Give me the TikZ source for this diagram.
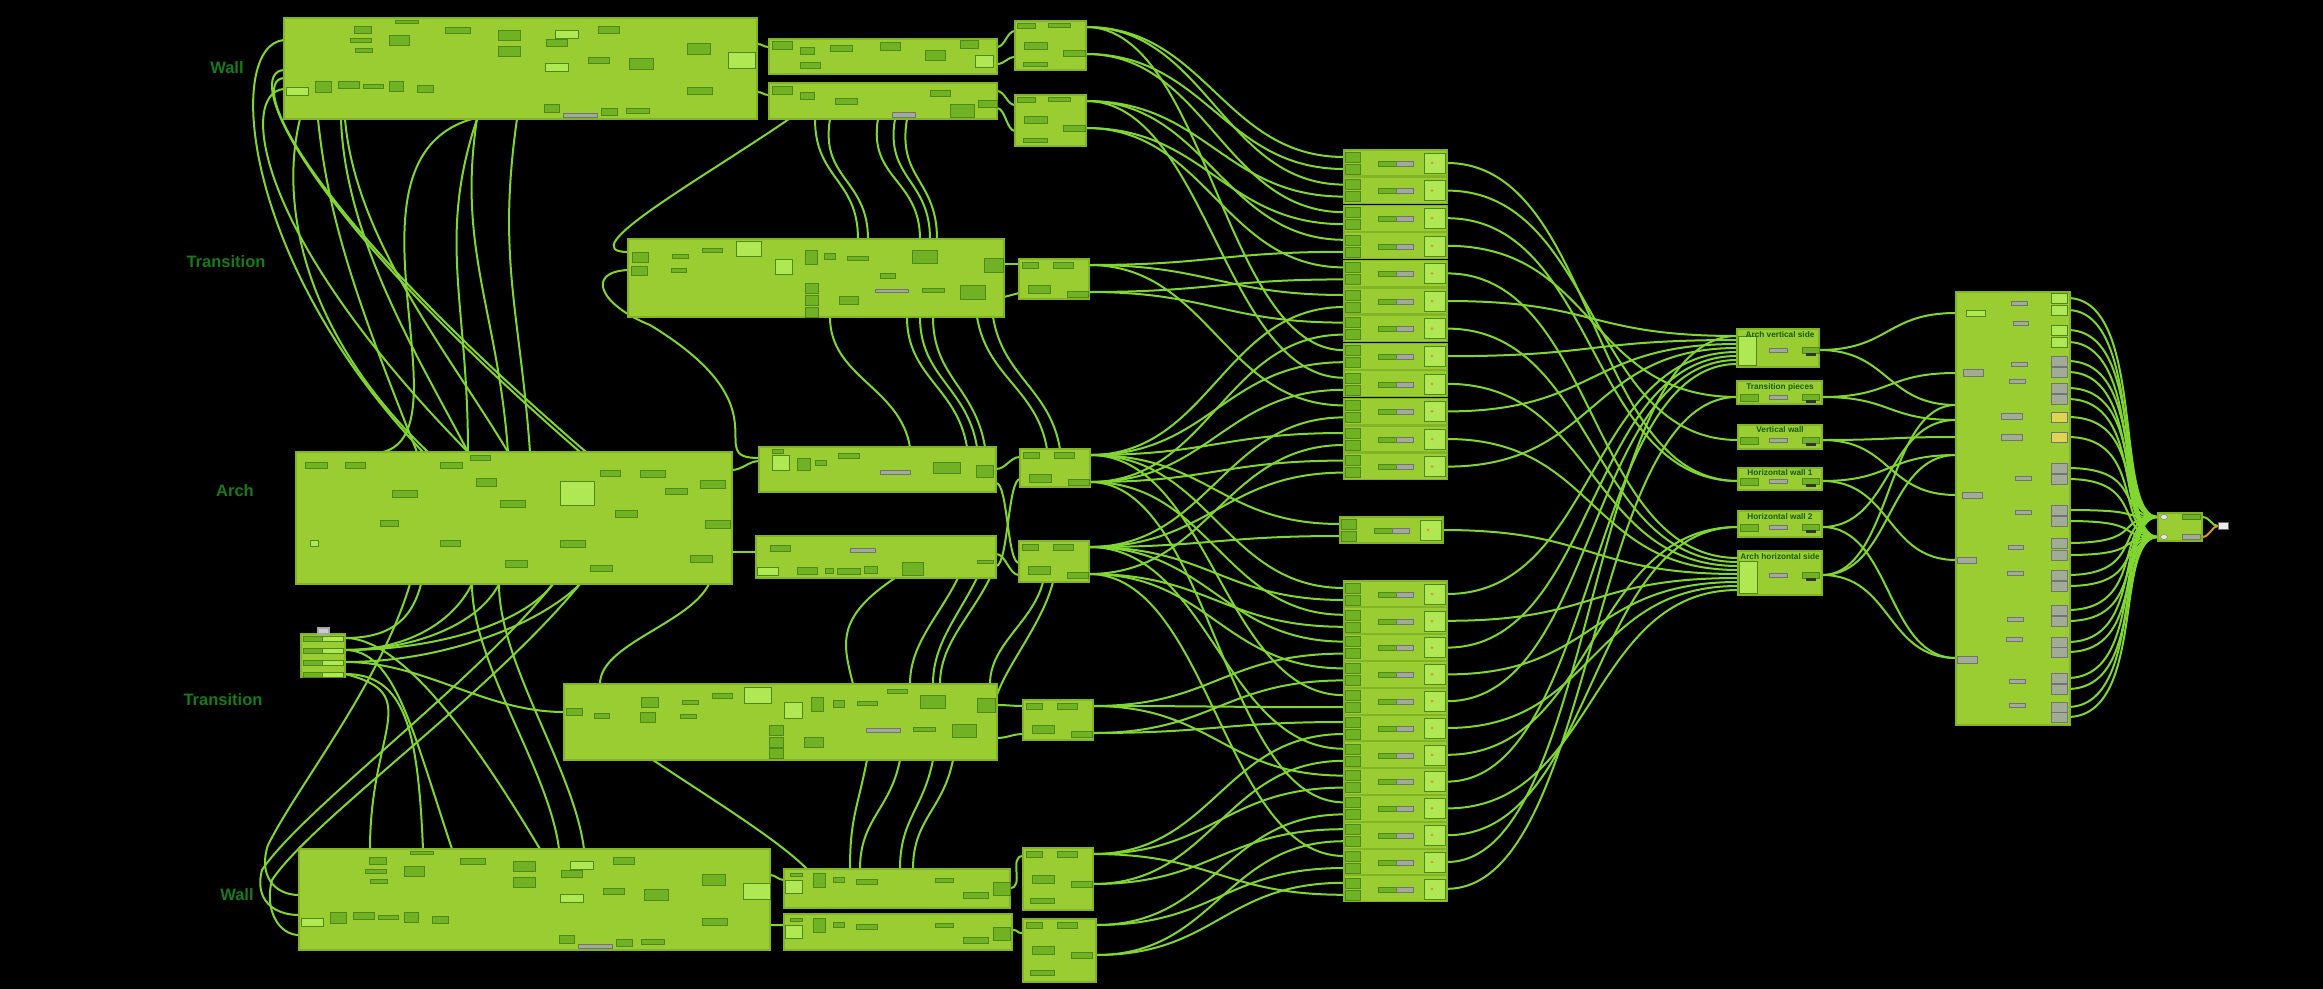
\documentclass[tikz,border=0pt]{standalone}
\usepackage{fontspec}
\setmainfont{Liberation Sans}
\usetikzlibrary{calc,fit}
\pgfdeclarelayer{back}
\pgfdeclarelayer{wires}
\pgfsetlayers{back,wires,main}
\definecolor{grp}{RGB}{154,205,50}
\definecolor{grpedge}{RGB}{130,180,40}
\definecolor{wirec}{RGB}{130,214,50}
\definecolor{compd}{RGB}{112,178,36}
\definecolor{compe}{RGB}{78,136,24}
\definecolor{compl}{RGB}{176,232,84}
\definecolor{compg}{RGB}{160,172,150}
\definecolor{compy}{RGB}{222,214,80}
\definecolor{labc}{RGB}{24,122,24}
\definecolor{titc}{RGB}{22,92,18}
\definecolor{orng}{RGB}{214,150,50}
\tikzset{
  grpbox/.style={fill=grp, draw=grpedge, line width=0.12mm, inner sep=0pt, outer sep=0pt},
  wire/.style={draw=wirec, line width=0.2mm},
  cd/.style={fill=compd, draw=compe, line width=0.05mm},
  cl/.style={fill=compl, draw=compe, line width=0.05mm},
  cg/.style={fill=compg, draw=black!55, line width=0.05mm},
  cy/.style={fill=compy, draw=black!55, line width=0.05mm},
  lab/.style={font=\fontsize{4.7}{5}\selectfont\bfseries, text=labc, inner sep=0pt},
  ttl/.style={font=\fontsize{2.35}{2.5}\selectfont\bfseries, text=titc, inner sep=0pt},
}
\newcommand{\rowbox}[3]{%
  \node[grpbox, fit={(#2,#3) (#2+103,#3+26)}] (#1) {};
  \path[cd] (#2+1,#3+2) rectangle ++(15,10);
  \path[cd] (#2+1,#3+14) rectangle ++(15,10);
  \path[cd] (#2+34,#3+11) rectangle ++(18,5);
  \path[cg] (#2+52,#3+11) rectangle ++(17,5);
  \path[cl] (#2+80,#3+3) rectangle ++(21,20);
  \fill[orng] (#2+88,#3+13) circle (0.15mm);
  \coordinate (#1a) at ($(#1.north west)+(0,7)$);
  \coordinate (#1b) at ($(#1.north west)+(0,19)$);
  \coordinate (#1o) at ($(#1.north east)+(0,13)$);
}
\begin{document}
\begin{tikzpicture}[x=0.1mm,y=-0.1mm]
\begin{pgfonlayer}{back}
\fill[black] (0,0) rectangle (2323,989);
\end{pgfonlayer}
\useasboundingbox (0,0) rectangle (2323,989);

% ---------- labels ----------
\node[lab] (lw1) at (227,68) {Wall};
\node[lab] (lt1) at (226,262) {Transition};
\node[lab] (la) at (235,491) {Arch};
\node[lab] (lt2) at (223,700) {Transition};
\node[lab] (lw2) at (237,895) {Wall};

% ---------- groups column 1 ----------
\node[grpbox, fit={(284,18) (757,119)}] (wallT) {};
\node[grpbox, fit={(628,239) (1004,317)}] (transU) {};
\node[grpbox, fit={(296,452) (732,584)}] (arch) {};
\node[grpbox, fit={(301,634) (345,677)}] (sbox) {};
\node[grpbox, fit={(564,684) (997,760)}] (transL) {};
\node[grpbox, fit={(299,849) (770,950)}] (wallB) {};
\path[fill=gray!40, draw=gray!70] (318,628) rectangle (329,634);
% column 2
\node[grpbox, fit={(769,39) (997,74)}] (a1) {};
\node[grpbox, fit={(769,83) (997,119)}] (a2) {};
\node[grpbox, fit={(759,447) (996,492)}] (a3) {};
\node[grpbox, fit={(756,536) (996,578)}] (a4) {};
\node[grpbox, fit={(784,869) (1010,908)}] (a5) {};
\node[grpbox, fit={(784,914) (1012,950)}] (a6) {};
% column 3
\node[grpbox, fit={(1015,21) (1086,70)}] (b1) {};
\node[grpbox, fit={(1015,95) (1086,146)}] (b2) {};
\node[grpbox, fit={(1019,259) (1089,299)}] (b3) {};
\node[grpbox, fit={(1020,449) (1090,487)}] (b4) {};
\node[grpbox, fit={(1019,541) (1089,582)}] (b5) {};
\node[grpbox, fit={(1023,700) (1093,740)}] (b6) {};
\node[grpbox, fit={(1023,848) (1093,910)}] (b7) {};
\node[grpbox, fit={(1023,919) (1096,982)}] (b8) {};
\foreach \n/\t/\d in {b1/6/33,b2/6/33,b3/6/33,b4/6/33,b5/6/33,b6/6/33,b7/6/36,b8/6/36}{
  \coordinate (\n o1) at ($(\n.north east)+(0,\t)$);
  \coordinate (\n o2) at ($(\n.north east)+(0,\d)$);
}

% ---------- components ----------
\foreach \dx/\dy in {0/0,15/831}{
 \foreach \s/\x/\y/\w/\h in {cd/354/26/17/7,cd/395/20/23/3,cd/350/38/21/4,cd/355/48/17/4,cd/389/35/20/10,cd/445/27/25/6,cd/498/30/22/10,cd/498/46/22/10,cl/555/30/23/8,cd/546/39/21/7,cd/598/26/21/7,cl/545/63/23/8,cd/588/57/21/6,cd/629/58/24/11,cd/687/43/23/11,cl/728/52/27/16,cd/687/87/25/7,cl/286/87/22/8,cd/315/81/16/11,cd/338/81/21/7,cd/363/84/20/4,cd/389/81/14/10,cd/417/85/16/7,cd/544/104/15/8,cg/563/113/34/4,cd/601/108/16/7,cd/626/108/23/5}
  {\path[\s] (\x+\dx,\y+\dy) rectangle ++(\w,\h);}
}
\foreach \s/\x/\y/\w/\h in {cd/305/462/22/6,cd/345/462/20/6,cd/392/490/25/7,cd/440/462/22/6,cd/476/478/20/8,cd/500/500/25/7,cd/505/560/22/7,cl/560/481/34/24,cd/600/470/20/6,cd/615/510/22/7,cd/640/470/25/7,cd/665/488/22/6,cd/700/480/25/8,cd/705/520/25/8,cd/690/555/22/7,cd/560/540/25/7,cd/590/565/22/6,cd/440/540/20/6,cd/380/520/18/6,cl/310/540/8/6,cd/470/455/20/5,
 cd/772/41/20/8,cd/800/47/14/7,cd/830/45/22/6,cd/880/42/20/8,cd/925/50/20/10,cd/960/40/18/8,cl/975/55/18/12,cd/800/62/20/6,
 cd/772/86/20/8,cd/800/92/14/7,cd/835/98/22/6,cg/892/112/23/5,cd/950/104/24/13,cd/978/100/19/7,cd/930/90/20/6,
 cd/772/449/11/4,cl/772/455/17/15,cd/797/458/13/12,cd/815/460/11/5,cd/838/453/21/5,cg/880/470/30/4,cd/933/462/27/11,cd/976/465/17/12,
 cl/757/567/21/8,cd/797/567/20/7,cd/825/568/8/5,cd/837/568/23/6,cd/864/566/13/7,cd/902/562/21/13,cd/977/560/16/3,cd/770/545/20/6,cg/850/548/25/4,
 cd/790/873/12/3,cl/785/880/17/13,cd/813/873/12/14,cd/833/877/11/5,cd/856/879/21/5,cd/935/878/18/4,cd/963/892/25/6,cd/993/882/17/13,
 cd/790/918/12/3,cl/785/925/17/13,cd/813/918/12/14,cd/833/922/11/5,cd/856/924/21/5,cd/935/923/18/4,cd/963/937/25/6,cd/993/927/17/13,
 cd/632/252/16/10,cd/631/266/16/9,cd/672/254/16/4,cd/671/268/15/4,cd/702/248/20/4,cl/736/241/25/15,cl/775/259/17/15,cd/805/250/12/14,cd/824/253/11/6,cd/847/256/21/4,cd/805/283/13/10,cd/805/295/13/10,cd/805/307/13/10,cd/839/296/19/8,cd/880/273/15/5,cg/875/289/33/3,cd/912/250/25/13,cd/922/288/22/4,cd/960/285/25/14,cd/984/258/19/14,
 cd/566/708/16/7,cd/594/713/15/5,cd/641/697/17/10,cd/640/712/15/10,cd/682/700/16/4,cd/680/714/16/4,cd/712/693/20/5,cl/744/687/27/16,cl/784/702/18/16,cd/811/697/12/14,cd/833/700/11/7,cd/857/701/20/4,cd/887/689/20/4,cd/920/695/25/13,cd/977/698/18/14,cd/769/725/14/10,cd/769/737/14/10,cd/769/748/14/10,cd/804/737/19/10,cg/866/728/34/4,cd/913/727/22/4,cd/952/724/24/13,
 cd/1017/23/18/5,cd/1048/23/22/4,cd/1024/42/23/7,cd/1063/50/22/6,cd/1023/62/24/4,
 cd/1017/97/18/5,cd/1048/97/22/4,cd/1024/116/23/7,cd/1063/125/22/6,cd/1023/138/24/4,
 cd/1022/262/16/6,cd/1053/262/20/6,cd/1028/285/22/8,cd/1067/291/21/6,
 cd/1023/452/16/6,cd/1054/452/20/6,cd/1029/474/22/8,cd/1068/479/21/6,
 cd/1022/544/16/6,cd/1053/544/20/6,cd/1028/566/22/8,cd/1067/572/21/6,
 cd/1026/703/16/6,cd/1057/703/20/6,cd/1032/725/22/8,cd/1071/731/21/6,
 cd/1026/851/16/6,cd/1057/851/20/6,cd/1032/875/22/8,cd/1071/881/21/6,cd/1030/898/24/5,
 cd/1026/922/16/6,cd/1057/922/20/6,cd/1032/946/22/8,cd/1071/952/21/6,cd/1030/970/24/5}
 {\path[\s] (\x,\y) rectangle ++(\w,\h);}
\foreach \yy in {636,648,660,672}{
 \path[cd] (303,\yy) rectangle ++(19,5);
 \path[cl] (322,\yy) rectangle ++(21,5);
}

% ---------- column 4 rows ----------
\foreach \i in {1,...,12}{
  \pgfmathsetmacro\yy{150+(\i-1)*27.6}
  \rowbox{t\i}{1344}{\yy}
}
\rowbox{mrow}{1340}{517}
\foreach \i in {1,...,12}{
  \pgfmathsetmacro\yy{581+(\i-1)*26.8}
  \rowbox{u\i}{1344}{\yy}
}

% ---------- column 5 ----------
\node[grpbox, fit={(1737,329) (1819,367)}] (avs) {};
\node[grpbox, fit={(1737,381) (1822,404)}] (tp) {};
\node[grpbox, fit={(1738,425) (1822,449)}] (vw) {};
\node[grpbox, fit={(1738,468) (1822,490)}] (hw1) {};
\node[grpbox, fit={(1738,511) (1822,537)}] (hw2) {};
\node[grpbox, fit={(1738,551) (1822,595)}] (ahs) {};
\path[cl] (1738,336) rectangle (1756,365);
\path[cl] (1739,561) rectangle (1757,593);
\foreach \n/\yc in {tp/397,vw/440,hw1/481,hw2/527}{
  \path[cd] (1740,\yc-3) rectangle ++(18,7);
}
\foreach \yc in {350,397,440,481,527,575}{
  \path[cg] (1769,\yc-2) rectangle ++(18,4);
  \path[cd] (1802,\yc-3) rectangle ++(17,6);
  \path[fill=black!80] (1806,\yc+3) rectangle ++(10,3);
}
\node[ttl] at (1780,335) {Arch vertical side};
\node[ttl] at (1780,387) {Transition pieces};
\node[ttl] at (1780,430) {Vertical wall};
\node[ttl] at (1780,473) {Horizontal wall 1};
\node[ttl] at (1780,517) {Horizontal wall 2};
\node[ttl] at (1780,557) {Arch horizontal side};
\foreach \n/\yc in {avs/350,tp/397,vw/440,hw1/481,hw2/527,ahs/575}{
  \coordinate (\n o) at (\n.east|-0,\yc);
}
\foreach \k/\yc in {1/336,2/340,3/344,4/348,5/352,6/356,7/360,8/364}{
  \coordinate (avs\k) at (avs.west|-0,\yc);
}
\foreach \k/\yc in {1/558,2/562,3/566,4/570,5/574,6/578,7/582,8/586,9/590}{
  \coordinate (ahs\k) at (ahs.west|-0,\yc);
}
\coordinate (tpi) at (tp.west|-0,397);
\coordinate (vwi) at (vw.west|-0,440);
\coordinate (hw1i) at (hw1.west|-0,481);
\coordinate (hw2i) at (hw2.west|-0,527);

% ---------- column 6 ----------
\node[grpbox, fit={(1956,292) (2070,725)}] (big) {};
\foreach \k/\d in {1/21,2/81,3/113,4/128,5/145,6/163,7/203,8/268,9/366}{
  \coordinate (ci\k) at ($(big.north west)+(0,\d)$);
}
\path[cl] (1966,310) rectangle ++(19,6);
\foreach \x/\y/\w/\h in {1963/369/20/7,2001/413/21/6,2001/434/21/6,1962/492/20/6,1957/557/19/6,1957/656/20/7,2011/301/16/4,2013/321/15/4,2011/362/16/4,2009/379/16/4,2015/476/16/4,2015/510/16/4,2008/545/15/4,2007/571/16/4,2007/617/16/4,2006/637/16/4,2009/679/16/4,2009/703/16/4}
  {\path[cg] (\x,\y) rectangle ++(\w,\h);}
\foreach \yy/\st [count=\k] in {298/cl,310/cl,330/cl,342/cl,361/cg,372/cg,388/cg,399/cg,417/cy,437/cy,468/cg,479/cg,510/cg,521/cg,543/cg,555/cg,575/cg,586/cg,610/cg,621/cg,642/cg,652/cg,678/cg,689/cg,707/cg,717/cg}{
  \node[\st, minimum width=1.6mm, minimum height=0.95mm, inner sep=0pt] (o\k) at (2059,\yy) {};
}

% ---------- final ----------
\node[grpbox, fit={(2158,513) (2202,541)}] (fin) {};
\coordinate (fi1) at ($(fin.north west)+(0,4)$);
\coordinate (fi2) at ($(fin.north west)+(0,24)$);
\path[fill=white!80!gray, draw=black!50, line width=0.05mm] (2164,517) ellipse (0.35mm and 0.25mm);
\path[fill=white!80!gray, draw=black!50, line width=0.05mm] (2164,537) ellipse (0.35mm and 0.25mm);
\path[cd] (2182,514) rectangle ++(18,5);
\path[cg] (2182,534) rectangle ++(18,5);
\node[fill=white!85!gray, draw=black!60, line width=0.05mm, minimum width=1mm, minimum height=0.7mm, inner sep=0pt] (outn) at (2223,526) {};

% ================= wires =================
\begin{pgfonlayer}{wires}
% left area
\draw[wire] ($(wallT.north west)+(0,22)$) .. controls +(-59,5) and +(-183,-192) .. ($(arch.north west)+(127,0)$);
\draw[wire] ($(wallT.north west)+(0,71)$) .. controls +(-44,3) and +(-218,-222) .. ($(arch.north west)+(172,0)$);
\draw[wire] ($(wallT.north west)+(0,52)$) .. controls +(-39,2) and +(-290,-252) .. ($(arch.north west)+(284,0)$);
\draw[wire] ($(wallT.north west)+(0,60)$) .. controls +(-36,3) and +(-286,-247) .. ($(arch.north west)+(290,0)$);
\draw[wire] ($(wallT.south west)+(16,0)$) .. controls +(-20,81) and +(-128,-122) .. ($(arch.north west)+(132,0)$);
\draw[wire] ($(wallT.south west)+(34,0)$) .. controls +(10,100) and +(-60,-150) .. ($(arch.north west)+(121,0)$);
\draw[wire] ($(wallT.south west)+(57,0)$) .. controls +(4,121) and +(-48,-92) .. ($(arch.north west)+(172,0)$);
\draw[wire] ($(wallT.south west)+(61,0)$) .. controls +(10,120) and +(-60,-100) .. ($(arch.north west)+(212,0)$);
\draw[wire] ($(wallT.south west)+(188,0)$) .. controls +(-142,41) and +(87,-22) .. ($(arch.north west)+(87,0)$);
\draw[wire] ($(wallT.south west)+(193,0)$) .. controls +(-40,120) and +(0,-150) .. ($(arch.north west)+(172,0)$);
\draw[wire] ($(wallT.south west)+(193,0)$) .. controls +(-20,130) and +(-10,-140) .. ($(arch.north west)+(212,0)$);
\draw[wire] ($(wallT.south west)+(233,0)$) .. controls +(-20,140) and +(-10,-140) .. ($(arch.north west)+(234,0)$);
\draw[wire] ($(a2.south west)+(20,0)$) .. controls +(-89,61) and +(-58,0) .. ($(transU.north west)+(0,13)$);
\draw[wire] ($(transU.north west)+(0,31)$) .. controls +(-43,2) and +(-50,-20) .. (650,325) .. controls +(140,85) and +(-59,0) .. ($(a3.north west)+(0,11)$);
\draw[wire] ($(sbox.north east)+(0,4)$) .. controls +(40,0) and +(-10,40) .. ($(arch.south west)+(125,0)$);
\draw[wire] ($(sbox.north east)+(0,16)$) .. controls +(60,0) and +(-20,40) .. ($(arch.south west)+(176,0)$);
\draw[wire] ($(sbox.north east)+(0,16)$) .. controls +(70,0) and +(-20,40) .. ($(arch.south west)+(203,0)$);
\draw[wire] ($(sbox.north east)+(0,16)$) .. controls +(90,0) and +(-30,40) .. ($(arch.south west)+(257,0)$);
\draw[wire] ($(sbox.north east)+(0,28)$) .. controls +(100,0) and +(-40,40) .. ($(arch.south west)+(284,0)$);
\draw[wire] ($(sbox.north east)+(0,28)$) .. controls +(80,0) and +(-80,0) .. ($(transL.north west)+(0,28)$);
\draw[wire] ($(sbox.north east)+(0,40)$) .. controls +(60,0) and +(-5,-120) .. ($(wallB.north west)+(124,0)$);
\draw[wire] ($(sbox.north east)+(0,40)$) .. controls +(80,20) and +(0,-120) .. ($(wallB.north west)+(71,0)$);
\draw[wire] ($(sbox.north east)+(0,16)$) .. controls +(50,0) and +(-40,-120) .. ($(wallB.north west)+(153,0)$);
\draw[wire] ($(sbox.north east)+(0,4)$) .. controls +(60,0) and +(-60,-100) .. ($(wallB.north west)+(241,0)$);
\draw[wire] ($(arch.south west)+(176,0)$) .. controls +(0,80) and +(-10,-80) .. ($(wallB.north west)+(260,0)$);
\draw[wire] ($(arch.south west)+(203,0)$) .. controls +(0,80) and +(-10,-80) .. ($(wallB.north west)+(285,0)$);
\draw[wire] ($(arch.south west)+(114,0)$) .. controls +(-30,100) and +(30,-60) .. (268,845) .. controls +(-10,30) and +(-25,0) .. ($(wallB.north west)+(0,46)$);
\draw[wire] ($(arch.south west)+(257,0)$) .. controls +(-80,100) and +(40,-60) .. (262,870) .. controls +(-8,30) and +(-25,0) .. ($(wallB.north west)+(0,66)$);
\draw[wire] ($(arch.south west)+(284,0)$) .. controls +(-90,110) and +(40,-60) .. (272,880) .. controls +(-8,30) and +(-20,0) .. ($(wallB.north west)+(0,86)$);
\draw[wire] ($(arch.south west)+(413,0)$) .. controls +(-20,40) and +(0,-40) .. ($(transL.north west)+(36,0)$);
\draw[wire] ($(transL.south west)+(89,0)$) .. controls +(60,40) and +(-30,-30) .. ($(a5.north west)+(23,0)$);
% middle area
\foreach \s/\t/\c in {46/230/0,61/240/-10,109/292/-10,126/302/-10,138/309/-10}{
  \draw[wire] ($(a2.south west)+(\s,0)$) .. controls +(\c,60) and +(0,-60) .. ($(transU.north west)+(\t,0)$);
}
\foreach \s/\t in {202/151,279/208,292/218,305/226}{
  \draw[wire] ($(transU.south west)+(\s,0)$) .. controls +(0,60) and +(-10,-60) .. ($(a3.north west)+(\t,0)$);
}
\foreach \s/\t in {349/27,365/40}{
  \draw[wire] ($(transU.south west)+(\s,0)$) .. controls +(10,60) and +(-10,-60) .. ($(b4.north west)+(\t,0)$);
}
\draw[wire] ($(a4.south west)+(139,0)$) .. controls +(-60,40) and +(-10,-40) .. ($(transL.north west)+(289,0)$);
\foreach \s/\t in {202/346,221/369,234/376}{
  \draw[wire] ($(a4.south west)+(\s,0)$) .. controls +(-20,40) and +(0,-40) .. ($(transL.north west)+(\t,0)$);
}
\draw[wire] ($(b5.south west)+(24,0)$) .. controls +(-10,40) and +(0,-40) .. ($(transL.north west)+(426,0)$);
\draw[wire] ($(b5.south west)+(34,0)$) .. controls +(-10,40) and +(10,-30) .. ($(transL.north east)+(0,11)$);
\foreach \s/\t in {303/66,336/76,369/116,389/129}{
  \draw[wire] ($(transL.south west)+(\s,0)$) .. controls +(-10,50) and +(0,-50) .. ($(a5.north west)+(\t,0)$);
}
% short links
\draw[wire] ($(wallT.north east)+(0,26)$) .. controls +(6,0) and +(-6,0) .. ($(a1.north west)+(0,8)$);
\draw[wire] ($(wallT.north east)+(0,74)$) .. controls +(6,0) and +(-6,0) .. ($(a2.north west)+(0,12)$);
\draw[wire] ($(a1.north east)+(0,8)$) .. controls +(8,0) and +(-8,0) .. ($(b1.north west)+(0,10)$);
\draw[wire] ($(a1.north east)+(0,25)$) .. controls +(8,0) and +(-8,0) .. ($(b1.north west)+(0,36)$);
\draw[wire] ($(a2.north east)+(0,8)$) .. controls +(8,0) and +(-8,0) .. ($(b2.north west)+(0,10)$);
\draw[wire] ($(a2.north east)+(0,25)$) .. controls +(8,0) and +(-8,0) .. ($(b2.north west)+(0,36)$);
\draw[wire] ($(transU.north east)+(0,25)$) -- ($(b3.north west)+(0,5)$);
\draw[wire] ($(transU.north east)+(0,58)$) -- ($(b3.north west)+(0,34)$);
\draw[wire] ($(arch.north east)+(0,18)$) .. controls +(10,0) and +(-10,0) .. ($(a3.north west)+(0,14)$);
\draw[wire] ($(arch.north east)+(0,100)$) .. controls +(10,0) and +(-10,0) .. ($(a4.north west)+(0,16)$);
\draw[wire] ($(a3.north east)+(0,22)$) .. controls +(10,0) and +(-10,0) .. ($(b4.north west)+(0,8)$);
\draw[wire] ($(a3.north east)+(0,36)$) .. controls +(12,0) and +(-12,0) .. ($(b5.north west)+(0,22)$);
\draw[wire] ($(a4.north east)+(0,18)$) .. controls +(10,0) and +(-10,0) .. ($(b5.north west)+(0,34)$);
\draw[wire] ($(a4.north east)+(0,30)$) .. controls +(12,0) and +(-12,0) .. ($(b4.north west)+(0,30)$);
\draw[wire] ($(transL.north east)+(0,21)$) .. controls +(10,0) and +(-10,0) .. ($(b6.north west)+(0,6)$);
\draw[wire] ($(transL.north east)+(0,54)$) .. controls +(10,0) and +(-10,0) .. ($(b6.north west)+(0,34)$);
\draw[wire] ($(wallB.north east)+(0,26)$) .. controls +(6,0) and +(-6,0) .. ($(a5.north west)+(0,11)$);
\draw[wire] ($(wallB.north east)+(0,76)$) .. controls +(6,0) and +(-6,0) .. ($(a6.north west)+(0,11)$);
\draw[wire] ($(a5.north east)+(0,19)$) .. controls +(15,0) and +(-15,0) .. ($(b7.north west)+(0,8)$);
\draw[wire] ($(a6.north east)+(0,16)$) .. controls +(8,0) and +(-8,0) .. ($(b8.north west)+(0,14)$);
% column 3 -> column 4
\foreach \s/\t in {b1o1/t1a,b1o2/t1b,b1o1/t2a,b2o1/t2b,b1o2/t3a,b2o2/t3b,b2o1/t4a,b3o1/t4b,b2o2/t5a,b3o2/t5b,b3o1/t6a,b4o1/t6b,b3o2/t7a,b4o2/t7b,b1o1/t8a,b4o1/t8b,b2o1/t9a,b4o2/t9b,b3o1/t10a,b5o1/t10b,b4o1/t11a,b5o2/t11b,b4o2/t12a,b5o1/t12b,b4o1/mrowa,b5o1/mrowb,b4o1/u1a,b5o1/u1b,b4o2/u2a,b5o2/u2b,b5o1/u3a,b6o1/u3b,b5o2/u4a,b6o2/u4b,b4o1/u5a,b6o1/u5b,b6o2/u6a,b7o1/u6b,b5o1/u7a,b7o2/u7b,b6o1/u8a,b7o1/u8b,b4o2/u9a,b8o1/u9b,b7o2/u10a,b8o2/u10b,b5o2/u11a,b8o1/u11b,b8o2/u12a,b7o1/u12b}{
  \draw[wire] (\s) .. controls +(120,0) and +(-120,0) .. (\t);
}
% column 4 -> column 5
\foreach \s/\t in {t1o/hw1i,t2o/vwi,t3o/hw1i,t4o/tpi,t5o/ahs1,t6o/avs1,t7o/ahs2,t8o/avs2,t9o/ahs3,t10o/avs3,t11o/ahs4,t12o/avs4,mrowo/ahs5,u1o/avs5,u2o/ahs6,u3o/avs6,u4o/ahs7,u5o/avs7,u6o/ahs8,u7o/hw2i,u8o/avs8,u9o/ahs9,u10o/hw2i,u11o/avs1,u12o/tpi}{
  \draw[wire] (\s) .. controls +(150,0) and +(-150,0) .. (\t);
}
% column 5 -> column 6
\foreach \s/\t in {avso/ci1,avso/ci3,tpo/ci2,tpo/ci4,vwo/ci5,vwo/ci7,hw1o/ci6,hw1o/ci8,hw2o/ci4,hw2o/ci9,ahso/ci3,ahso/ci6,ahso/ci9}{
  \draw[wire] (\s) .. controls +(70,0) and +(-70,0) .. (\t);
}
% column 6 -> final
\foreach \k in {1,3,...,25}{
  \draw[wire] (o\k.east) .. controls +(80,0) and +(-45,0) .. (fi1);
}
\foreach \k in {2,4,...,26}{
  \draw[wire] (o\k.east) .. controls +(80,0) and +(-45,0) .. (fi2);
}
\draw[wire] ($(fin.north east)+(0,4)$) .. controls +(8,0) and +(-6,0) .. (outn.west);
\draw[wire, draw=orng] ($(fin.north east)+(0,24)$) .. controls +(8,0) and +(-6,0) .. (outn.west);
\end{pgfonlayer}
\end{tikzpicture}
\end{document}
